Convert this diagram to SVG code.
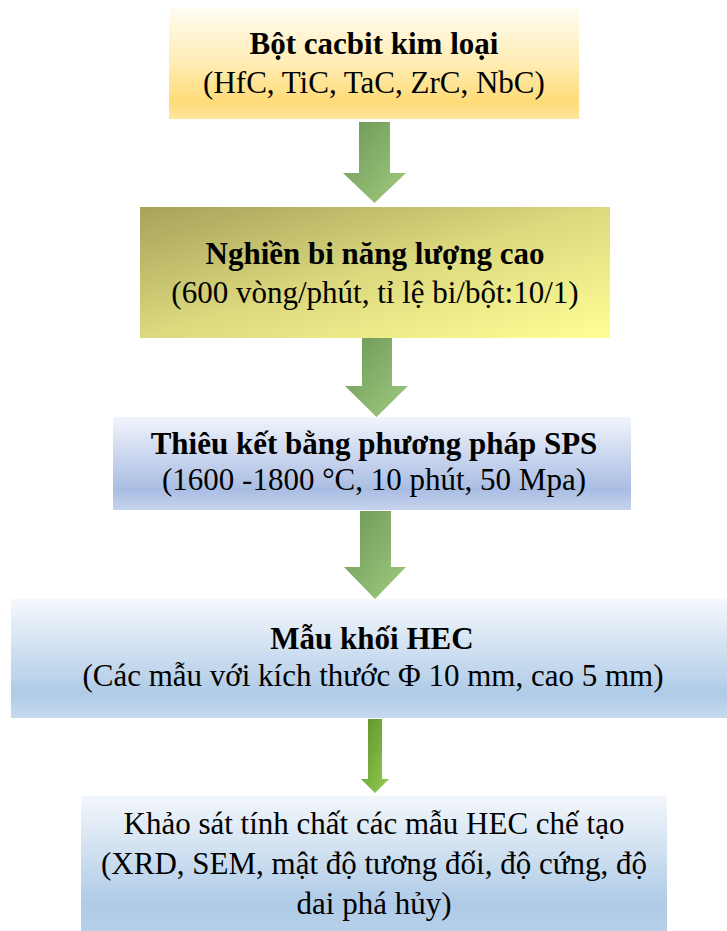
<svg xmlns="http://www.w3.org/2000/svg" width="727" height="931" viewBox="0 0 727 931">
<style>
text{font-size:31px;fill:#000;text-anchor:middle}
.b{font-weight:bold}
</style>
<defs>
<linearGradient id="g1" x1="0" y1="0" x2="0" y2="1">
<stop offset="0" stop-color="#fffdf3"/>
<stop offset="0.5" stop-color="#ffedb4"/>
<stop offset="0.85" stop-color="#ffdb78"/>
<stop offset="1" stop-color="#ffe6a0"/>
</linearGradient>
<linearGradient id="g2" x1="0" y1="0" x2="1" y2="1">
<stop offset="0" stop-color="#a6a25a"/>
<stop offset="0.5" stop-color="#dcd97e"/>
<stop offset="1" stop-color="#ffff96"/>
</linearGradient>
<linearGradient id="g3" x1="0" y1="0" x2="0" y2="1">
<stop offset="0" stop-color="#f1f4fb"/>
<stop offset="0.78" stop-color="#a9bde3"/>
<stop offset="1" stop-color="#c6d3ed"/>
</linearGradient>
<linearGradient id="g4" x1="0" y1="0" x2="0" y2="1">
<stop offset="0" stop-color="#f5f8fc"/>
<stop offset="0.8" stop-color="#afcbe7"/>
<stop offset="1" stop-color="#c6daee"/>
</linearGradient>
<linearGradient id="g5" x1="0" y1="0" x2="0" y2="1">
<stop offset="0" stop-color="#f3f7fb"/>
<stop offset="0.8" stop-color="#afcbe7"/>
<stop offset="1" stop-color="#b6d0ea"/>
</linearGradient>
<linearGradient id="ga" x1="0" y1="0" x2="1" y2="1">
<stop offset="0" stop-color="#6c9656"/>
<stop offset="1" stop-color="#a2cb80"/>
</linearGradient>
<linearGradient id="gb" x1="0" y1="0" x2="1" y2="1">
<stop offset="0" stop-color="#5a9228"/>
<stop offset="1" stop-color="#95cd55"/>
</linearGradient>
</defs>
<g id="connectors">
<polygon fill="url(#ga)" points="359,122 390,122 390,173 406,173 374.5,203 343,173 359,173"/>
<polygon fill="url(#ga)" points="362,338 392,338 392,386 408,386 376.5,417 345,386 362,386"/>
<polygon fill="url(#ga)" points="360,511 391,511 391,567 406,567 375,599 344,567 360,567"/>
<polygon fill="url(#gb)" points="368,719 382,719 382,779 389,779 375,793 361,779 368,779"/>
</g>
<g font-family="Liberation Serif, Tinos, Times New Roman, serif">
<g id="node1">
<rect x="169" y="7" width="410" height="112" fill="url(#g1)"/>
<text class="b" x="374" y="54">Bột cacbit kim loại</text>
<text x="374" y="93">(HfC, TiC, TaC, ZrC, NbC)</text>
</g>
<g id="node2">
<rect x="140" y="207" width="470" height="131" fill="url(#g2)"/>
<text class="b" x="375" y="264">Nghiền bi năng lượng cao</text>
<text x="375" y="303">(600 vòng/phút, tỉ lệ bi/bột:10/1)</text>
</g>
<g id="node3">
<rect x="113" y="417" width="518" height="93" fill="url(#g3)"/>
<text class="b" x="374" y="454">Thiêu kết bằng phương pháp SPS</text>
<text x="374" y="490">(1600 -1800 °C, 10 phút, 50 Mpa)</text>
</g>
<g id="node4">
<rect x="11" y="599" width="716" height="119" fill="url(#g4)"/>
<text class="b" x="372" y="649">Mẫu khối HEC</text>
<text x="373" y="686">(Các mẫu với kích thước Φ 10 mm, cao 5 mm)</text>
</g>
<g id="node5">
<rect x="81" y="796" width="586" height="135" fill="url(#g5)"/>
<text x="374" y="834">Khảo sát tính chất các mẫu HEC chế tạo</text>
<text x="374" y="874">(XRD, SEM, mật độ tương đối, độ cứng, độ</text>
<text x="374" y="914">dai phá hủy)</text>
</g>
</g>
</svg>
